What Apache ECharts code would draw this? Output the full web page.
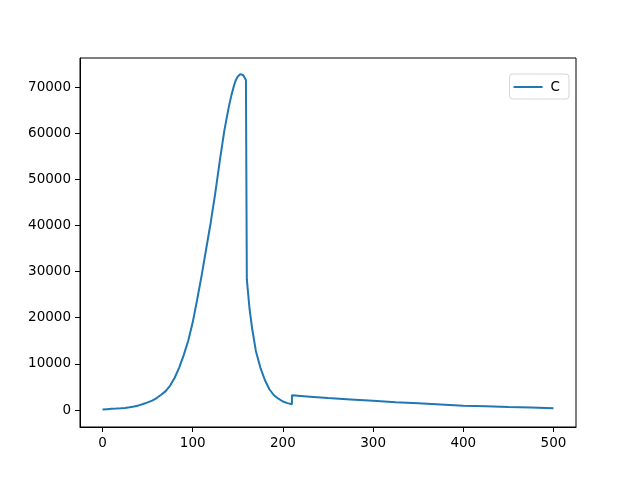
<!DOCTYPE html>
<html>
<head>
<meta charset="utf-8">
<script src="https://cdn.jsdelivr.net/npm/echarts@6/dist/echarts.min.js"></script>
<style>
  html, body { margin: 0; padding: 0; background: #fff; }
  #main { width: 640px; height: 480px; }
</style>
</head>
<body>
<div id="main"></div>
<script>
// values
const xs = [0, 5, 10, 15, 20, 25, 30, 35, 40, 45, 50, 55, 60, 65, 70, 75, 80, 85, 90, 95,
  100, 105, 110, 115, 120, 125, 130, 135, 140, 143, 146, 148, 150, 151.5, 153, 154.5, 156, 157.5, 159, 160,
  160, 163, 166, 170, 175, 180, 185, 190, 195, 200, 205, 210,
  210, 230, 250, 275, 300, 325, 350, 375, 400, 425, 450, 475, 500];
const cValues = [100, 180, 250, 310, 380, 460, 580, 760, 1000, 1300, 1650, 2050, 2600, 3300, 4100, 5300, 7000, 9200, 11900, 15000,
  19000, 24000, 29300, 35000, 40700, 47000, 54000, 60500, 65700, 68300, 70500, 71600, 72300, 72650, 72800, 72750, 72550, 72150, 71500, 71100,
  28300, 21900, 17500, 12800, 9200, 6500, 4500, 3200, 2450, 1850, 1500, 1250,
  3200, 2900, 2600, 2300, 2000, 1700, 1450, 1200, 950, 800, 650, 520, 400];
const xTicks = [0, 100, 200, 300, 400, 500];
const yTicks = [0, 10000, 20000, 30000, 40000, 50000, 60000, 70000];

const chart = echarts.init(document.getElementById('main'));
const font = 'DejaVu Sans';
const axisCommon = {
  axisLine: { show: true, onZero: false, lineStyle: { color: '#000', width: 1 } },
  axisTick: { show: true, length: 5, lineStyle: { color: '#000' } },
  axisLabel: { color: '#000', fontFamily: font, fontSize: 13.5, margin: 9, formatter: v => String(v) },
  splitLine: { show: false }
};

chart.setOption({
  animation: false,
  grid: { left: 80, right: 64, top: 58, bottom: 53, show: true, borderColor: '#000', borderWidth: 1, backgroundColor: '#fff' },
  legend: {
    data: [{ name: 'C', icon: 'rect' }],
    right: 71,
    top: 74,
    itemWidth: 29,
    itemHeight: 2,
    padding: [6, 9, 5, 4],
    borderColor: '#d6d6d6',
    borderWidth: 1,
    borderRadius: 3,
    textStyle: { color: '#000', fontFamily: font, fontSize: 13.5, padding: [0, 0, 0, 3] }
  },
  xAxis: Object.assign({}, axisCommon, {
    type: 'value', min: -25, max: 525,
    axisTick: Object.assign({}, axisCommon.axisTick, { customValues: xTicks }),
    axisLabel: Object.assign({}, axisCommon.axisLabel, { customValues: xTicks })
  }),
  yAxis: Object.assign({}, axisCommon, {
    type: 'value', min: -3680, max: 76290,
    axisTick: Object.assign({}, axisCommon.axisTick, { customValues: yTicks }),
    axisLabel: Object.assign({}, axisCommon.axisLabel, { customValues: yTicks })
  }),
  series: [{
    name: 'C',
    type: 'line',
    symbol: 'none',
    color: '#1f77b4',
    lineStyle: { width: 2 },
    data: xs.map((x, i) => [x, cValues[i]])
  }]
});
</script>
</body>
</html>
